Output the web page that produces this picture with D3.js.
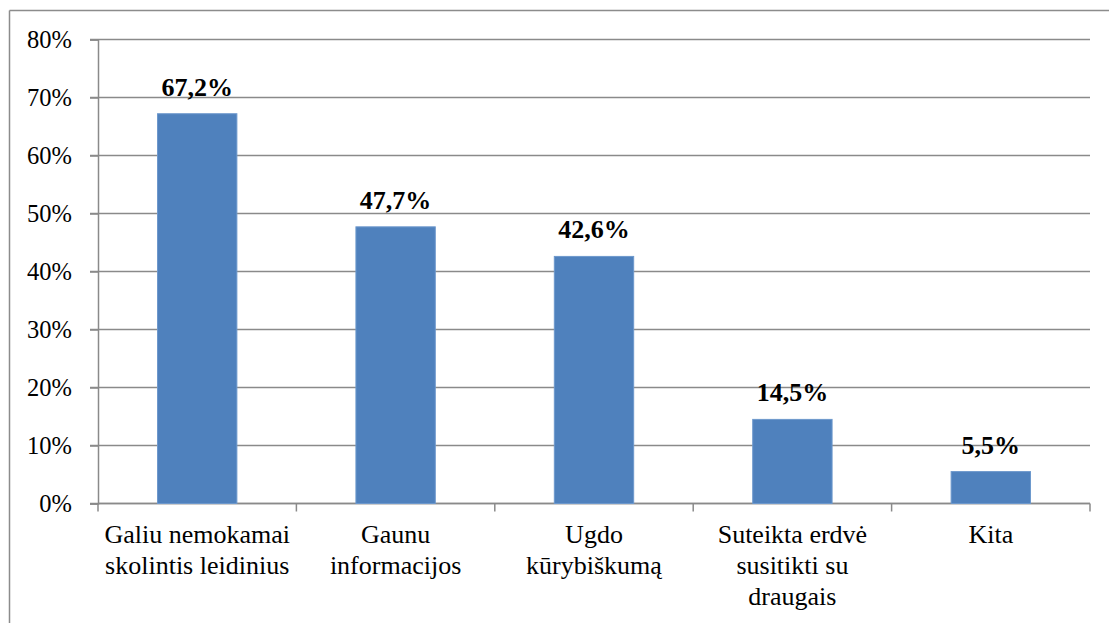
<!DOCTYPE html>
<html>
<head>
<meta charset="utf-8">
<script src="https://cdn.jsdelivr.net/npm/d3@7"></script>
<style>
  body { margin: 0; background: #fff; }
</style>
</head>
<body>
<main></main>
<script>
// chart data
const categories = [
  ["Galiu nemokamai", "skolintis leidinius"],
  ["Gaunu", "informacijos"],
  ["Ugdo", "kūrybiškumą"],
  ["Suteikta erdvė", "susitikti su", "draugais"],
  ["Kita"]
];
const values = [67.2, 47.7, 42.6, 14.5, 5.5];
const valueLabels = ["67,2%", "47,7%", "42,6%", "14,5%", "5,5%"];
const yTicks = [0, 10, 20, 30, 40, 50, 60, 70, 80];

const FONT = "Liberation Serif";
const width = 1109, height = 623;
const svg = d3.select("main").append("svg")
  .attr("width", width)
  .attr("height", height)
  .style("display", "block");

// outer frame (top and left only are visible)
svg.append("line")
  .attr("x1", 9.5).attr("x2", width).attr("y1", 10.5).attr("y2", 10.5)
  .attr("stroke", "#8c8c8c").attr("stroke-width", 1.5);
svg.append("line")
  .attr("x1", 9.5).attr("x2", 9.5).attr("y1", 10.5).attr("y2", height)
  .attr("stroke", "#8c8c8c").attr("stroke-width", 1.5);

const idx = values.map((v, i) => i);

const xScale = d3.scaleBand()
  .domain(idx)
  .range([98, 1090])
  .paddingInner(0.6)
  .paddingOuter(0.3);

const yScale = d3.scaleLinear()
  .domain([0, 80])
  .range([503.5, 39.5]);

// gridlines
svg.append("g")
  .selectAll("line")
  .data(yTicks)
  .enter()
  .append("line")
  .attr("x1", 90)
  .attr("x2", 1090)
  .attr("y1", d => yScale(d))
  .attr("y2", d => yScale(d))
  .attr("stroke", "#8a8a8a")
  .attr("stroke-width", 1.5);

// y axis
const y_axis = d3.axisLeft(yScale)
  .tickValues(yTicks)
  .tickFormat(d => d + "%")
  .tickSize(8)
  .tickPadding(18);

const yG = svg.append("g")
  .attr("transform", "translate(98,0)")
  .call(y_axis)
  .attr("font-family", FONT)
  .attr("font-size", 24.5);
yG.select(".domain").attr("stroke", "#8a8a8a").attr("stroke-width", 1.5);
yG.selectAll(".tick line").attr("stroke", "#8a8a8a").attr("stroke-width", 1.5);
yG.selectAll("text")
  .style("font-size", "24.5px")
  .style("font-family", FONT)
  .attr("fill", "#000");

// x axis ticks at band edges
const edges = idx.map(i => xScale(i) - xScale.step() * xScale.paddingInner() / 2);
edges.push(1090);
svg.append("g")
  .selectAll("line")
  .data(edges)
  .enter()
  .append("line")
  .attr("x1", d => d).attr("x2", d => d)
  .attr("y1", yScale(0)).attr("y2", yScale(0) + 8)
  .attr("stroke", "#8a8a8a").attr("stroke-width", 1.5);
svg.append("line")
  .attr("x1", 98).attr("x2", 1090)
  .attr("y1", yScale(0)).attr("y2", yScale(0))
  .attr("stroke", "#8a8a8a").attr("stroke-width", 1.5);

// bars
svg.selectAll("rect.bar")
  .data(values)
  .enter()
  .append("rect")
  .attr("class", "bar")
  .attr("x", (d, i) => xScale(i))
  .attr("width", xScale.bandwidth())
  .attr("y", d => yScale(d))
  .attr("height", d => yScale(0) - yScale(d))
  .style("fill", "#4f81bd")
  .style("stroke", "#6d98cc")
  .style("stroke-width", 1);

// value labels
svg.selectAll("text.val")
  .data(values)
  .enter()
  .append("text")
  .attr("class", "val")
  .attr("x", (d, i) => xScale(i) + xScale.bandwidth() / 2)
  .attr("y", d => yScale(d) - 18)
  .attr("text-anchor", "middle")
  .style("font-family", FONT)
  .style("font-size", "26px")
  .style("font-weight", "bold")
  .text((d, i) => valueLabels[i]);

// category labels
const cat = svg.selectAll("text.cat")
  .data(categories)
  .enter()
  .append("text")
  .attr("class", "cat")
  .attr("text-anchor", "middle")
  .style("font-family", FONT)
  .style("font-size", "26px")
  .attr("x", (d, i) => xScale(i) + xScale.bandwidth() / 2)
  .attr("y", 543);
cat.selectAll("tspan")
  .data(d => d)
  .enter()
  .append("tspan")
  .attr("x", function () { return d3.select(this.parentNode).attr("x"); })
  .attr("dy", (d, j) => j === 0 ? 0 : 31)
  .text(d => d);
</script>
</body>
</html>
